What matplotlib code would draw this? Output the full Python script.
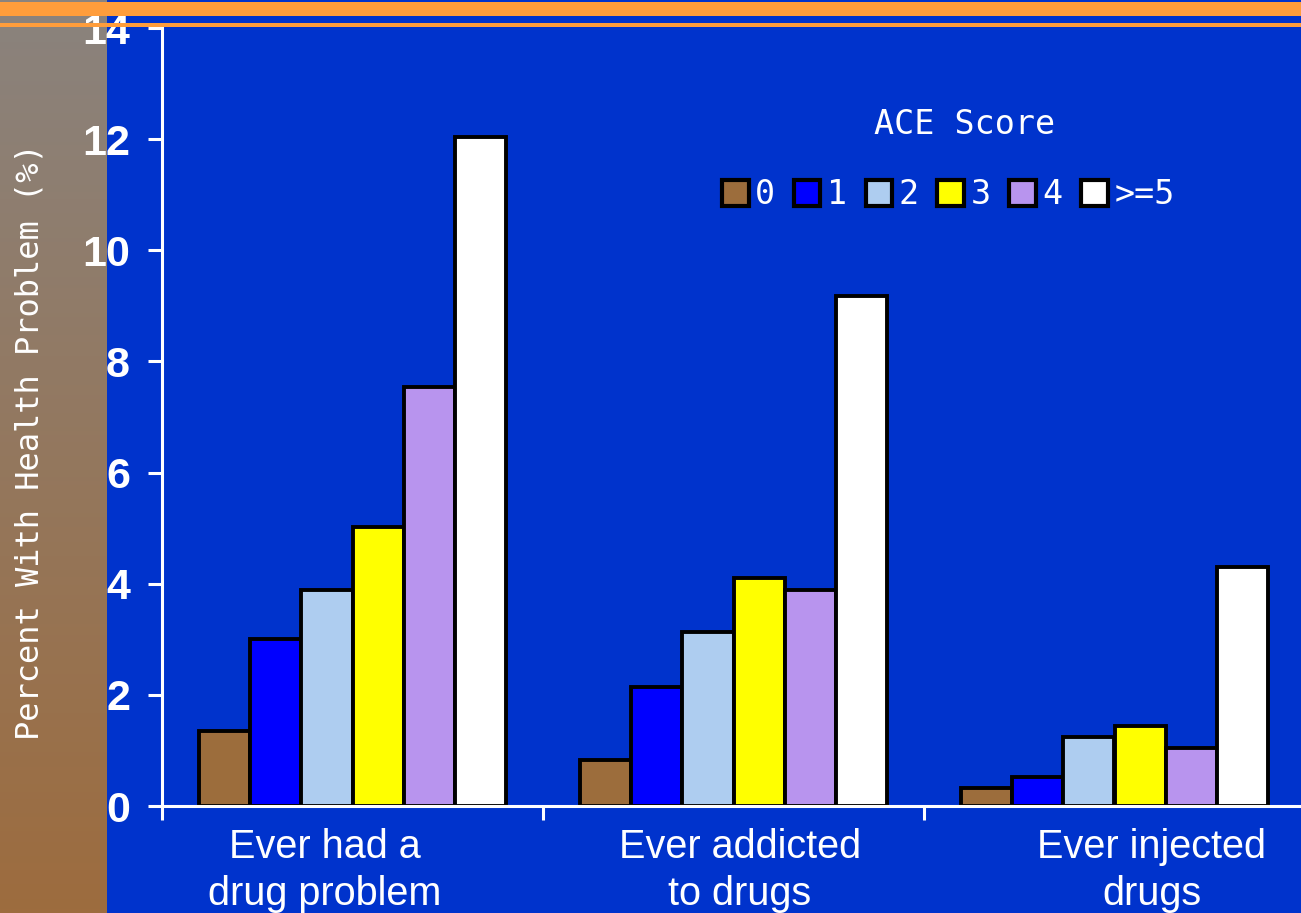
import numpy as np
import matplotlib as mlp
mlp.use("Agg")
import matplotlib.pyplot as plt
from matplotlib.patches import Rectangle

# percent with health problem, by ACE score
groups = ["Ever had a\ndrug problem", "Ever addicted\nto drugs", "Ever injected\ndrugs"]
scores = ["0", "1", "2", "3", "4", ">=5"]
vals = [
	[1.35, 0.83, 0.32],   # 0
	[3.0, 2.14, 0.52],    # 1
	[3.89, 3.13, 1.24],   # 2
	[5.02, 4.1, 1.44],    # 3
	[7.54, 3.89, 1.04],   # 4
	[12.04, 9.18, 4.3],   # >=5
]
colors = ["#9c6d3c", "#0000ff", "#aecdf0", "#ffff00", "#b894ee", "#ffffff"]
yticks = [0, 2, 4, 6, 8, 10, 12, 14]

bg = "#0033cc"
W, H = 1301, 913
fig = plt.figure(figsize=(W/100, H/100), dpi=100)
fig.patch.set_facecolor(bg)

# left strip, grey at top fading to brown
strip = fig.add_axes([0, 0, 106/W, 1])
grad = np.linspace(0, 1, 256)[:, None]
top = np.array([138, 131, 126]) / 255.0
bot = np.array([157, 108, 62]) / 255.0
img = top[None, None, :] * (1 - grad[:, :, None]) + bot[None, None, :] * grad[:, :, None]
strip.imshow(img, aspect="auto", extent=[0, 1, 0, 1])
strip.set_axis_off()

# orange rules across the top
fig.patches.append(Rectangle((0, 1 - 16/H), 1, 14/H, transform=fig.transFigure,
	facecolor="#ff9d3b", edgecolor="none", zorder=5))
fig.patches.append(Rectangle((0, 1 - 27/H), 1, 4/H, transform=fig.transFigure,
	facecolor="#ff9d3b", edgecolor="none", zorder=5))

ax = fig.add_axes([162/W, 107/H, 1143/W, 778/H])
ax.set_facecolor("none")
ax.set_xlim(0, 3)
ax.set_ylim(0, 14)

w = 0.134
x = np.arange(len(groups)) + 0.5
for j in range(len(scores)):
	ax.bar(x + (j - 2.5) * w, vals[j], w, color=colors[j], edgecolor="black",
		linewidth=2.8, label=scores[j], zorder=3)

for s in ["top", "right"]:
	ax.spines[s].set_visible(False)
for s in ["left", "bottom"]:
	ax.spines[s].set_color("white")
	ax.spines[s].set_linewidth(2.2)
	ax.spines[s].set_zorder(4)

ax.set_yticks(yticks)
ax.set_yticklabels([str(v) for v in yticks], fontsize=31, fontweight="bold",
	color="white", family="Liberation Sans")
ax.set_xticks([0, 1, 2, 3])
ax.set_xticklabels([])
ax.tick_params(axis="both", colors="white", length=10, width=2.2, direction="out")
ax.tick_params(axis="y", pad=13)

label_x = [0.428, 1.517, 2.598]
for lx, g in zip(label_x, groups):
	ax.text(lx, -0.4, g, ha="center", va="top", color="white", fontsize=28.5,
		family="Liberation Sans", linespacing=1.28, transform=ax.transData)

fig.text(30/W, 1 - 442/H, "Percent With Health Problem (%)", rotation=90,
	ha="center", va="center", color="white", fontsize=23, family="DejaVu Sans Mono")

fig.text(965/W, 1 - 125/H, "ACE Score", ha="center", va="center", color="white",
	fontsize=24, family="DejaVu Sans Mono")
leg = ax.legend(loc="center left", bbox_to_anchor=(722/W, 1 - 195/H),
	bbox_transform=fig.transFigure, ncol=6, frameon=False, borderpad=0,
	borderaxespad=0, handlelength=0.8, handleheight=0.8, handletextpad=0.2,
	columnspacing=0.55, prop={"family": "DejaVu Sans Mono", "size": 24})
for t in leg.get_texts():
	t.set_color("white")
for p in leg.get_patches():
	p.set_linewidth(3)

plt.savefig("out.png", dpi=100, facecolor=fig.get_facecolor())
